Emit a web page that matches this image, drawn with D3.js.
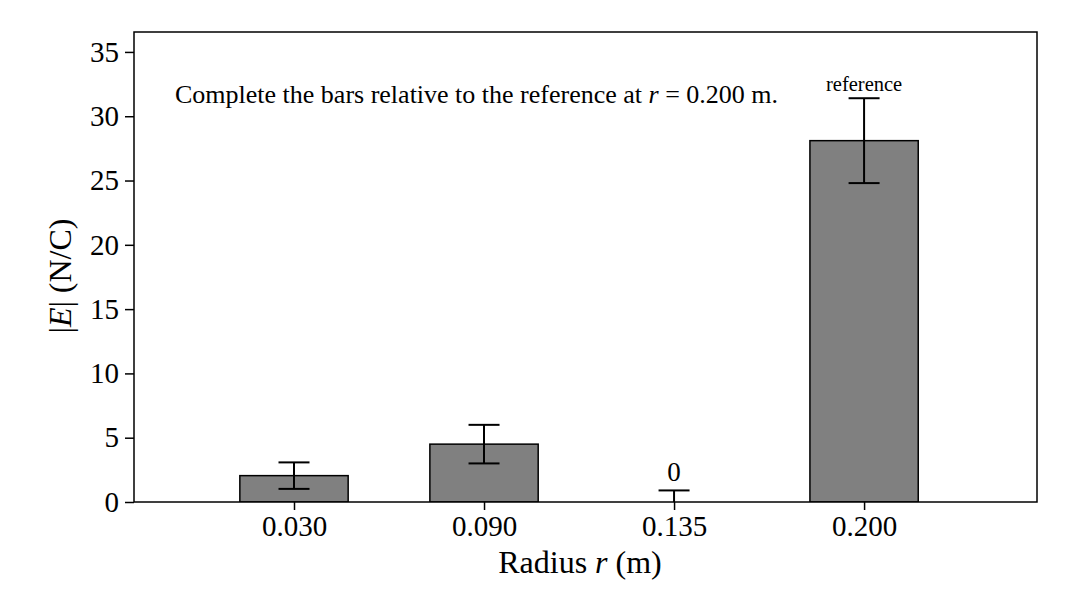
<!DOCTYPE html>
<html>
<head>
<meta charset="utf-8">
<script src="https://cdn.jsdelivr.net/npm/d3@7"></script>
<style>
  body { margin: 0; background: #fff; }
  text { font-family: "Liberation Serif", "Times New Roman", serif; fill: #000; }
</style>
</head>
<body>
<div id="chart"></div>
<script>

const radii = ["0.030", "0.090", "0.135", "0.200"];
const fieldValues = [2.05, 4.5, 0, 28.1];
const fieldErrors = [1.03, 1.5, 0.9, 3.3];
const barLabels = ["", "", "0", "reference"];
const yTicks = [0, 5, 10, 15, 20, 25, 30, 35];

const width = 1080, height = 589;
const plotLeft = 134, plotRight = 1037, plotTop = 32, plotBottom = 502;

const svg = d3.select("#chart")
    .append("svg")
    .attr("width", width)
    .attr("height", height);

// categories sit at 0,1,2,3 like a matplotlib bar chart
const x = d3.scaleLinear().domain([-0.842, 3.91]).range([plotLeft, plotRight]);
const y = d3.scaleLinear().domain([0, 36.55]).range([plotBottom, plotTop]);
const barW = 0.57;
const capHalf = 15.5;

svg.append("clipPath").attr("id", "plot-clip")
    .append("rect")
    .attr("x", plotLeft).attr("y", plotTop)
    .attr("width", plotRight - plotLeft).attr("height", plotBottom - plotTop);

const plot = svg.append("g").attr("clip-path", "url(#plot-clip)");

plot.selectAll("rect.bar")
    .data(fieldValues)
    .join("rect")
    .attr("class", "bar")
    .attr("x", (d, i) => x(i - barW / 2))
    .attr("y", d => y(d))
    .attr("width", x(barW) - x(0))
    .attr("height", d => y(0) - y(d))
    .attr("fill", "#808080")
    .attr("stroke", "#000")
    .attr("stroke-width", 1.5);

const errs = plot.selectAll("g.err")
    .data(fieldValues)
    .join("g")
    .attr("class", "err")
    .attr("stroke", "#000")
    .attr("stroke-width", 2);

errs.append("line")
    .attr("x1", (d, i) => x(i)).attr("x2", (d, i) => x(i))
    .attr("y1", (d, i) => y(d - fieldErrors[i]))
    .attr("y2", (d, i) => y(d + fieldErrors[i]));
errs.append("line")
    .attr("x1", (d, i) => x(i) - capHalf).attr("x2", (d, i) => x(i) + capHalf)
    .attr("y1", (d, i) => y(d + fieldErrors[i]))
    .attr("y2", (d, i) => y(d + fieldErrors[i]));
errs.append("line")
    .attr("x1", (d, i) => x(i) - capHalf).attr("x2", (d, i) => x(i) + capHalf)
    .attr("y1", (d, i) => y(d - fieldErrors[i]))
    .attr("y2", (d, i) => y(d - fieldErrors[i]));

// labels above the error bars
svg.selectAll("text.barlab")
    .data(barLabels)
    .join("text")
    .attr("class", "barlab")
    .attr("x", (d, i) => x(i))
    .attr("y", (d, i) => y(fieldValues[i] + fieldErrors[i]) - (d === "0" ? 9 : 7.5))
    .attr("text-anchor", "middle")
    .style("font-size", d => d === "0" ? "27px" : "20.5px")
    .text(d => d);

// frame
svg.append("rect")
    .attr("x", plotLeft).attr("y", plotTop)
    .attr("width", plotRight - plotLeft).attr("height", plotBottom - plotTop)
    .attr("fill", "none").attr("stroke", "#000").attr("stroke-width", 1.5);

const xAxis = svg.append("g")
    .attr("transform", `translate(0,${plotBottom})`)
    .call(d3.axisBottom(x).tickValues(d3.range(radii.length)).tickFormat(i => radii[i]).tickSize(8).tickPadding(5));
const yAxis = svg.append("g")
    .attr("transform", `translate(${plotLeft},0)`)
    .call(d3.axisLeft(y).tickValues(yTicks).tickSize(9).tickPadding(6));

[xAxis, yAxis].forEach(a => {
    a.select(".domain").remove();
    a.selectAll("line").attr("stroke", "#000").attr("stroke-width", 1.5);
    a.selectAll("text").style("font-size", "29px").style("font-family", "Liberation Serif");
});

svg.append("text")
    .attr("x", 580).attr("y", 573)
    .attr("text-anchor", "middle")
    .style("font-size", "32px")
    .html('Radius <tspan font-style="italic">r</tspan> (m)');

svg.append("text")
    .attr("transform", "translate(71,276) rotate(-90)")
    .attr("text-anchor", "middle")
    .style("font-size", "32px")
    .html('|<tspan font-style="italic">E</tspan>| (N/C)');

svg.append("text")
    .attr("x", 175).attr("y", 103)
    .style("font-size", "26px")
    .html('Complete the bars relative to the reference at <tspan font-style="italic">r</tspan> = 0.200 m.');

</script>
</body>
</html>
